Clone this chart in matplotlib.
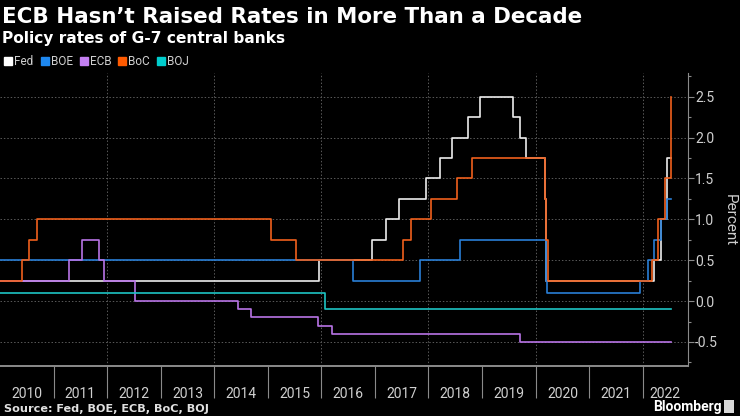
import numpy as np
import pandas as pd
import matplotlib
matplotlib.use("Agg")
import matplotlib.pyplot as plt
from matplotlib.lines import Line2D
from matplotlib.ticker import FixedLocator, NullFormatter

# policy rates, step changes (date the new rate took effect)
end_date = '2022-07-15'

fed_dates = ['2010-01-01', '2015-12-16', '2016-12-14', '2017-03-15', '2017-06-14',
             '2017-12-13', '2018-03-21', '2018-06-13', '2018-09-26', '2018-12-19',
             '2019-07-31', '2019-09-18', '2019-10-30', '2020-03-03', '2020-03-15',
             '2022-03-16', '2022-05-04', '2022-06-15']
fed_rates = [0.25, 0.5, 0.75, 1.0, 1.25, 1.5, 1.75, 2.0, 2.25, 2.5,
             2.25, 2.0, 1.75, 1.25, 0.25, 0.5, 1.0, 1.75]

boe_dates = ['2010-01-01', '2016-08-04', '2017-11-02', '2018-08-02', '2020-03-11',
             '2020-03-19', '2021-12-16', '2022-02-03', '2022-03-17', '2022-05-05',
             '2022-06-16']
boe_rates = [0.5, 0.25, 0.5, 0.75, 0.25, 0.1, 0.25, 0.5, 0.75, 1.0, 1.25]

ecb_dates = ['2010-01-01', '2011-04-13', '2011-07-13', '2011-11-09', '2011-12-14',
             '2012-07-11', '2014-06-11', '2014-09-10', '2015-12-09', '2016-03-16',
             '2019-09-18']
ecb_rates = [0.25, 0.5, 0.75, 0.5, 0.25, 0.0, -0.1, -0.2, -0.3, -0.4, -0.5]

boc_dates = ['2010-01-01', '2010-06-01', '2010-07-20', '2010-09-08', '2015-01-21',
             '2015-07-15', '2017-07-12', '2017-09-06', '2018-01-17', '2018-07-11',
             '2018-10-24', '2020-03-04', '2020-03-13', '2020-03-27', '2022-03-02',
             '2022-04-13', '2022-06-01', '2022-07-13']
boc_rates = [0.25, 0.5, 0.75, 1.0, 0.75, 0.5, 0.75, 1.0, 1.25, 1.5,
             1.75, 1.25, 0.75, 0.25, 0.5, 1.0, 1.5, 2.5]

boj_dates = ['2010-01-01', '2016-01-29']
boj_rates = [0.1, -0.1]

banks = ['Fed', 'BOE', 'ECB', 'BoC', 'BOJ']
colors = ['#ececec', '#2a7fd6', '#b874e6', '#f0601c', '#1ec4c4']
legend_colors = ['#ffffff', '#1e88f0', '#c480f2', '#ff5a00', '#00cccc']
years = list(range(2010, 2023))


def dec_year(d):
    t = pd.Timestamp(d)
    ndays = 366 if t.is_leap_year else 365
    return t.year + (t.dayofyear - 1) / ndays


plt.rcParams['font.family'] = ['Roboto', 'DejaVu Sans']
fig = plt.figure(figsize=(7.4, 4.16), dpi=100, facecolor='black')
ax = fig.add_axes([0.0, 0.119, 0.9297, 0.7055], facecolor='black')

series = [(fed_dates, fed_rates), (boe_dates, boe_rates), (ecb_dates, ecb_rates),
          (boc_dates, boc_rates), (boj_dates, boj_rates)]
for (dates, rates), c in zip(series, colors):
    x = [dec_year(d) for d in dates] + [dec_year(end_date)]
    y = rates + [rates[-1]]
    ax.step(x, y, where='post', color=c, lw=1.2, zorder=3)

xmax = 2022.845
ax.set_xlim(2010.0, xmax)
ax.set_ylim(-0.8, 2.79)

# grid
for yv in [-0.5, 0, 0.5, 1.0, 1.5, 2.0, 2.5]:
    ax.axhline(yv, color='#5a5a5a', lw=0.7, ls=(0, (1.5, 2)), zorder=1)
for xv in range(2012, 2023, 2):
    ax.axvline(xv, color='#5a5a5a', lw=0.7, ls=(0, (1.5, 2)), zorder=1)

# spines
for s in ['top', 'left']:
    ax.spines[s].set_visible(False)
ax.spines['bottom'].set_color('#8a8a8a')
ax.spines['bottom'].set_linewidth(1.4)
ax.spines['right'].set_color('#8a8a8a')
ax.spines['right'].set_linewidth(0.8)

# y axis on the right
ax.yaxis.tick_right()
ax.yaxis.set_label_position('right')
ax.set_yticks([-0.5, 0, 0.5, 1.0, 1.5, 2.0, 2.5])
ax.set_yticklabels(['-0.5', '0.0', '0.5', '1.0', '1.5', '2.0', '2.5'])
ax.yaxis.set_minor_locator(FixedLocator(np.arange(-0.75, 2.8, 0.25)))
ax.tick_params(axis='y', which='major', colors='#8a8a8a', labelcolor='#d0d0d0',
               length=4, width=0.8, pad=1, labelsize=10)
ax.tick_params(axis='y', which='minor', colors='#8a8a8a', length=2.5, width=0.8)
ax.set_ylabel('Percent', color='#d0d0d0', fontsize=11, rotation=270, labelpad=14)

# x axis: separators at year starts, labels centred in each year
ax.set_xticks(years[1:])
ax.xaxis.set_major_formatter(NullFormatter())
ax.tick_params(axis='x', which='major', colors='#8a8a8a', length=23, width=0.8)
label_pos = [y + 0.5 for y in years[:-1]] + [(years[-1] + xmax) / 2]
ax.xaxis.set_minor_locator(FixedLocator(label_pos))
ax.set_xticklabels([str(y) for y in years], minor=True)
ax.tick_params(axis='x', which='minor', length=0, labelcolor='#d0d0d0',
               labelsize=10, pad=15)

# titles
head_font = ['DejaVu Sans']
fig.text(0.003, 0.958, 'ECB Hasn’t Raised Rates in More Than a Decade', color='white',
         fontsize=15.4, fontweight='bold', va='center', ha='left', family=head_font)
fig.text(0.003, 0.908, 'Policy rates of G-7 central banks', color='white',
         fontsize=11.1, fontweight='bold', va='center', ha='left', family=head_font)

handles = [Line2D([], [], marker='s', ls='none', color=c, markersize=5.5) for c in legend_colors]
leg = fig.legend(handles, banks, loc='center left', bbox_to_anchor=(-0.008, 0.851), ncol=5,
                 frameon=False, handlelength=0.6, handletextpad=0.2, columnspacing=0.65,
                 fontsize=8.5)
for t in leg.get_texts():
    t.set_color('#d0d0d0')

fig.text(0.005, 0.018, 'Source: Fed, BOE, ECB, BoC, BOJ', color='#e0e0e0',
         fontsize=8.1, fontweight='bold', va='center', ha='left', family=head_font)
fig.text(0.975, 0.022, 'Bloomberg', color='white', fontsize=10, fontweight='bold',
         va='center', ha='right')
fig.patches.append(plt.Rectangle((0.978, 0.008), 0.014, 0.03, transform=fig.transFigure,
                                 facecolor='#d8d8d8', edgecolor='none'))

fig.savefig('out.png', dpi=100, facecolor='black')
